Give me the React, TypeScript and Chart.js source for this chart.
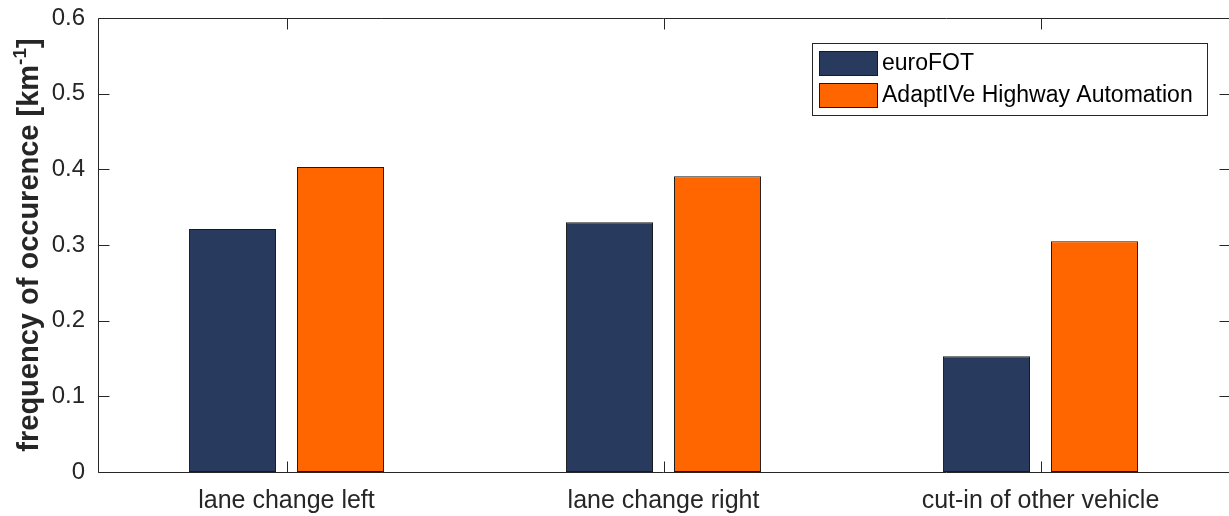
import React, { useEffect, useRef } from "react";
import { Chart, registerables } from "chart.js";

Chart.register(...registerables);

const categories = ["lane change left", "lane change right", "cut-in of other vehicle"];
const euroFOT = [0.321, 0.330, 0.153];
const adaptive = [0.403, 0.391, 0.305];
const seriesNames = ["euroFOT", "AdaptIVe Highway Automation"];
const yTicks = [0, 0.1, 0.2, 0.3, 0.4, 0.5, 0.6];

const NAVY = "#283A5E";
const ORANGE = "#FF6600";
const AXIS = "#262626";
const FONT = "'Liberation Sans', Arial, sans-serif";

const framePlugin = {
  id: "frame",
  afterDraw(chart: any) {
    const ctx = chart.ctx;
    const { left, right, top, bottom } = chart.chartArea;
    const xs = chart.scales.x;
    const ys = chart.scales.y;
    const tl = 11;
    ctx.save();
    ctx.strokeStyle = AXIS;
    ctx.lineWidth = 1;
    ctx.beginPath();
    const L = Math.round(left) + 0.5;
    const R = Math.round(Math.min(right, 1228)) + 0.5;
    const T = Math.round(top) + 0.5;
    const B = Math.round(bottom) + 0.5;
    ctx.moveTo(L, T);
    ctx.lineTo(1229, T);
    ctx.moveTo(L, B);
    ctx.lineTo(1229, B);
    ctx.moveTo(L, T);
    ctx.lineTo(L, B);
    yTicks.forEach((v) => {
      const y = Math.round(ys.getPixelForValue(v)) + 0.5;
      ctx.moveTo(L, y);
      ctx.lineTo(L + tl, y);
      ctx.moveTo(1229, y);
      ctx.lineTo(R - tl + 2, y);
    });
    categories.forEach((_, i) => {
      const x = Math.round(xs.getPixelForValue(i)) + 0.5;
      ctx.moveTo(x, B);
      ctx.lineTo(x, B - tl);
      ctx.moveTo(x, T);
      ctx.lineTo(x, T + tl);
    });
    ctx.stroke();

    // legend
    const lx = 812, ly = 43, lw = 395, lh = 72;
    ctx.fillStyle = "#ffffff";
    ctx.fillRect(lx, ly, lw, lh);
    ctx.strokeStyle = AXIS;
    ctx.strokeRect(lx + 0.5, ly + 0.5, lw, lh);
    const colors = [NAVY, ORANGE];
    ctx.font = `23px ${FONT}`;
    ctx.textBaseline = "middle";
    ctx.textAlign = "left";
    seriesNames.forEach((name, i) => {
      const sy = ly + 8 + i * 32;
      ctx.fillStyle = colors[i];
      ctx.fillRect(lx + 7, sy, 58, 24);
      ctx.strokeStyle = "#1a1a1a";
      ctx.strokeRect(lx + 7.5, sy + 0.5, 58, 24);
      ctx.fillStyle = "#000000";
      ctx.fillText(name, lx + 70, sy + 13);
    });

    // y-axis title with superscript
    ctx.save();
    const cy = (top + bottom) / 2;
    ctx.translate(29, cy);
    ctx.rotate(-Math.PI / 2);
    const bigFont = `bold 29px ${FONT}`;
    const smallFont = `bold 19px ${FONT}`;
    const p1 = "frequency of occurence [km";
    const p2 = "-1";
    const p3 = "]";
    ctx.font = bigFont;
    const w1 = ctx.measureText(p1).width;
    const w3 = ctx.measureText(p3).width;
    ctx.font = smallFont;
    const w2 = ctx.measureText(p2).width;
    const total = w1 + w2 + w3;
    let x0 = -total / 2;
    ctx.fillStyle = AXIS;
    ctx.textBaseline = "alphabetic";
    ctx.textAlign = "left";
    const base = 9;
    ctx.font = bigFont;
    ctx.fillText(p1, x0, base);
    x0 += w1;
    ctx.font = smallFont;
    ctx.fillText(p2, x0, base - 12);
    x0 += w2;
    ctx.font = bigFont;
    ctx.fillText(p3, x0, base);
    ctx.restore();

    ctx.restore();
  },
};

export default function App() {
  const ref = useRef<HTMLCanvasElement>(null);
  useEffect(() => {
    document.body.style.margin = "0";
    const chart = new Chart(ref.current!, {
      type: "bar",
      data: {
        labels: categories,
        datasets: [
          {
            label: seriesNames[0],
            data: euroFOT,
            backgroundColor: NAVY,
            borderColor: "#1a1a1a",
            borderWidth: 1,
            borderSkipped: false,
            categoryPercentage: 0.573,
            barPercentage: 0.806,
          },
          {
            label: seriesNames[1],
            data: adaptive,
            backgroundColor: ORANGE,
            borderColor: "#1a1a1a",
            borderWidth: 1,
            borderSkipped: false,
            categoryPercentage: 0.573,
            barPercentage: 0.806,
          },
        ],
      },
      plugins: [framePlugin],
      options: {
        animation: false,
        responsive: false,
        maintainAspectRatio: false,
        layout: { padding: { top: 18, right: -4, left: 0, bottom: 0 } },
        plugins: { legend: { display: false }, tooltip: { enabled: false } },
        scales: {
          x: {
            grid: { display: false, drawTicks: false },
            border: { display: false },
            ticks: {
              color: AXIS,
              font: { family: FONT, size: 25 },
              padding: 14,
              maxRotation: 0,
            },
            afterFit: (s: any) => {
              s.height = 44;
              s.paddingLeft = 0;
              s.paddingRight = 0;
            },
          },
          y: {
            min: 0,
            max: 0.6,
            grid: { display: false, drawTicks: false },
            border: { display: false },
            ticks: {
              stepSize: 0.1,
              color: AXIS,
              font: { family: FONT, size: 24 },
              padding: 13,
              callback: (v: any) => (v === 0 ? "0" : Number(v).toFixed(1)),
            },
            afterFit: (s: any) => {
              s.width = 98;
              s.paddingTop = 0;
              s.paddingBottom = 0;
            },
          },
        },
      },
    });
    return () => chart.destroy();
  }, []);
  return <canvas ref={ref} width={1229} height={516} style={{ display: "block" }} />;
}
